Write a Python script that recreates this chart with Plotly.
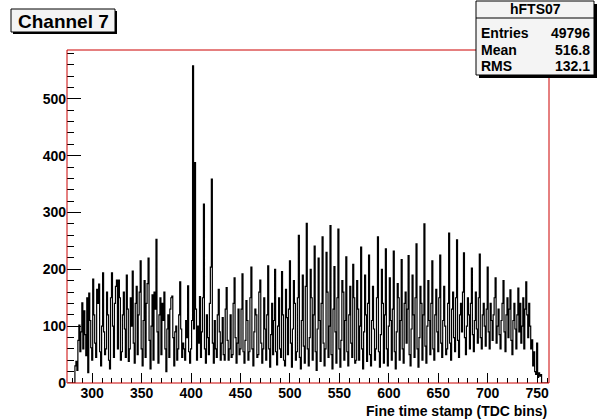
import plotly.graph_objects as go

# ---------------- data ----------------
bin_start = 276          # first bin (integer TDC bin, width 1)

counts_276_339 = [
    0, 0, 0, 0,
    0, 0, 0, 30, 38, 22, 75, 102, 55, 90,
    141, 60, 127, 85, 48, 150, 18, 158, 110, 62,
    40, 183, 120, 70, 45, 165, 140, 174, 55, 30,
    100, 194, 90, 50, 60, 160, 120, 40, 25, 150,
    194, 100, 45, 140, 170, 181, 60, 181, 150, 40,
    55, 120, 160, 95, 45, 190, 130, 38, 60, 150,
]
counts_340_449 = [
    100, 197, 70, 35, 140, 170, 50, 120, 160, 215,
    60, 30, 110, 180, 45, 140, 175, 220, 75, 25,
    100, 155, 40, 160, 130, 253, 90, 35, 120, 150,
    50, 140, 110, 160, 60, 20, 95, 120, 45, 130,
    150, 153, 80, 30, 90, 100, 40, 60, 120, 178,
    95, 45, 70, 60, 40, 110, 80, 171, 55, 35,
    60, 110, 558, 95, 388, 130, 40, 100, 70, 152,
    45, 90, 150, 315, 60, 35, 120, 80, 50, 140,
    204, 359, 70, 35, 110, 60, 45, 120, 165, 90,
    40, 70, 115, 50, 40, 130, 168, 75, 40, 60,
    120, 45, 50, 140, 185, 80, 35, 70, 130, 50,
]
counts_450_599 = [
    60, 130, 192, 55, 35, 75, 145, 110, 40, 55,
    150, 204, 60, 30, 90, 130, 120, 45, 50, 160,
    181, 70, 35, 60, 150, 95, 40, 120, 206, 60,
    28, 85, 140, 50, 110, 200, 55, 32, 100, 150,
    60, 45, 196, 120, 40, 30, 165, 115, 50, 130,
    215, 70, 28, 95, 180, 140, 40, 55, 150, 260,
    45, 25, 110, 190, 65, 35, 170, 281, 60, 30,
    80, 200, 150, 40, 120, 241, 55, 22, 95, 220,
    110, 38, 140, 257, 70, 30, 60, 230, 160, 45,
    100, 277, 50, 25, 130, 205, 90, 35, 150, 271,
    60, 28, 75, 180, 160, 40, 110, 222, 55, 30,
    120, 170, 70, 45, 209, 150, 35, 40, 180, 130,
    40, 100, 239, 60, 25, 90, 190, 120, 38, 140,
    225, 50, 30, 110, 170, 95, 40, 60, 150, 257,
    55, 28, 85, 200, 140, 35, 120, 236, 60, 30,
]
counts_600_761 = [
    100, 185, 110, 40, 130, 232, 55, 25, 90, 175,
    150, 40, 110, 217, 60, 35, 140, 160, 70, 130,
    224, 50, 30, 95, 190, 120, 45, 150, 245, 60,
    28, 80, 170, 140, 40, 120, 280, 65, 35, 100,
    180, 110, 50, 140, 215, 60, 40, 120, 165, 90,
    55, 150, 225, 70, 45, 110, 170, 100, 50, 60,
    140, 264, 70, 40, 130, 160, 80, 55, 150, 252,
    75, 45, 120, 140, 90, 160, 229, 80, 50, 100,
    150, 120, 60, 140, 202, 85, 55, 110, 160, 95,
    70, 150, 227, 80, 60, 120, 140, 100, 65, 130,
    204, 90, 60, 140, 110, 75, 120, 150, 185, 70,
    100, 130, 85, 60, 110, 140, 180, 90, 55, 120,
    150, 80, 130, 164, 75, 50, 110, 140, 95, 60,
    120, 167, 90, 140, 70, 100, 150, 60, 130, 178,
    120, 80, 140, 100, 60, 76, 30, 55, 20, 15,
    70, 10, 18, 12, 15, 0, 0, 0, 0, 0,
    0, 0,
]

hist_name = "hFTS07"
title_text = "Channel 7"
x_title = "Fine time stamp (TDC bins)"
stat_labels = ["Entries", "Mean", "RMS"]
stat_values = ["49796", "516.8", "132.1"]

x_range = [274.5, 762]
y_range = [0, 586]

# ---------------- build ----------------
counts = counts_276_339 + counts_340_449 + counts_450_599 + counts_600_761
edges = [bin_start - 0.5 + i for i in range(len(counts) + 1)]
ystep = counts + [counts[-1]]

W, H = 598, 420
L, R, T, B = 67, 549, 50, 383


def px(x):
    return (x - L) / (R - L)


def py(y):
    return (B - y) / (B - T)


FONT = "Liberation Sans, Arial, Helvetica, sans-serif"

fig = go.Figure()
fig.add_trace(go.Scatter(
    x=edges, y=ystep, mode="lines",
    line=dict(color="black", width=1.2, shape="hv"),
    hoverinfo="skip", showlegend=False,
))

axis_common = dict(
    showgrid=False, zeroline=False, showline=False,
    ticks="inside", tickcolor="black", tickwidth=1,
    tickfont=dict(family=FONT, size=14, color="black", weight="bold"),
)

fig.update_layout(
    width=W, height=H,
    margin=dict(l=L, r=W - R, t=T, b=H - B, pad=0),
    paper_bgcolor="white", plot_bgcolor="white",
    showlegend=False,
    xaxis=dict(range=x_range, tick0=0, dtick=50, ticklen=10,
               minor=dict(ticks="inside", ticklen=5, tickcolor="black",
                          dtick=10, tick0=0, showgrid=False),
               **axis_common),
    yaxis=dict(range=y_range, tick0=0, dtick=100, ticklen=14,
               minor=dict(ticks="inside", ticklen=7, tickcolor="black",
                          dtick=20, tick0=0, showgrid=False),
               **axis_common),
)

shapes = []
# frame
shapes.append(dict(type="rect", xref="paper", yref="paper", x0=0, x1=1, y0=0, y1=1,
                   line=dict(color="#cc0000", width=1), fillcolor="rgba(0,0,0,0)"))


def box(x0, y0, x1, y1, fill, shadow=3):
    shapes.append(dict(type="rect", xref="paper", yref="paper",
                       x0=px(x0 + shadow), x1=px(x1 + shadow),
                       y0=py(y1 + shadow), y1=py(y0 + shadow),
                       line=dict(width=0), fillcolor="black"))
    shapes.append(dict(type="rect", xref="paper", yref="paper",
                       x0=px(x0), x1=px(x1), y0=py(y1), y1=py(y0),
                       line=dict(color="black", width=1), fillcolor=fill))


# title box
box(11, 9, 115, 32, "#f4f4f4", shadow=2)
# stats box
box(476, 1, 594, 75, "#f4f4f4", shadow=3)
shapes.append(dict(type="line", xref="paper", yref="paper",
                   x0=px(476), x1=px(594), y0=py(18), y1=py(18),
                   line=dict(color="black", width=1)))
fig.update_layout(shapes=shapes)

ann = []
ann.append(dict(text="<b>%s</b>" % title_text, xref="paper", yref="paper",
                x=px(63), y=py(21), xanchor="center", yanchor="middle",
                showarrow=False, font=dict(family=FONT, size=19, color="black")))
ann.append(dict(text="<b>%s</b>" % hist_name, xref="paper", yref="paper",
                x=px(535), y=py(9.5), xanchor="center", yanchor="middle",
                showarrow=False, font=dict(family=FONT, size=14, color="black")))
for i, (lab, val) in enumerate(zip(stat_labels, stat_values)):
    yy = 33 + i * 16.5
    ann.append(dict(text="<b>%s</b>" % lab, xref="paper", yref="paper",
                    x=px(479), y=py(yy), xanchor="left", yanchor="middle",
                    showarrow=False, font=dict(family=FONT, size=14, color="black")))
    ann.append(dict(text="<b>%s</b>" % val, xref="paper", yref="paper",
                    x=px(592), y=py(yy), xanchor="right", yanchor="middle",
                    showarrow=False, font=dict(family=FONT, size=14, color="black")))
ann.append(dict(text="<b>%s</b>" % x_title, xref="paper", yref="paper",
                x=1, y=py(411), xanchor="right", yanchor="middle",
                showarrow=False, font=dict(family=FONT, size=14, color="black")))
fig.update_layout(annotations=ann)

fig.write_html(
    "out.html",
    config={"displayModeBar": False},
    post_script="document.body.style.margin='0px';document.body.style.overflow='hidden';",
)
